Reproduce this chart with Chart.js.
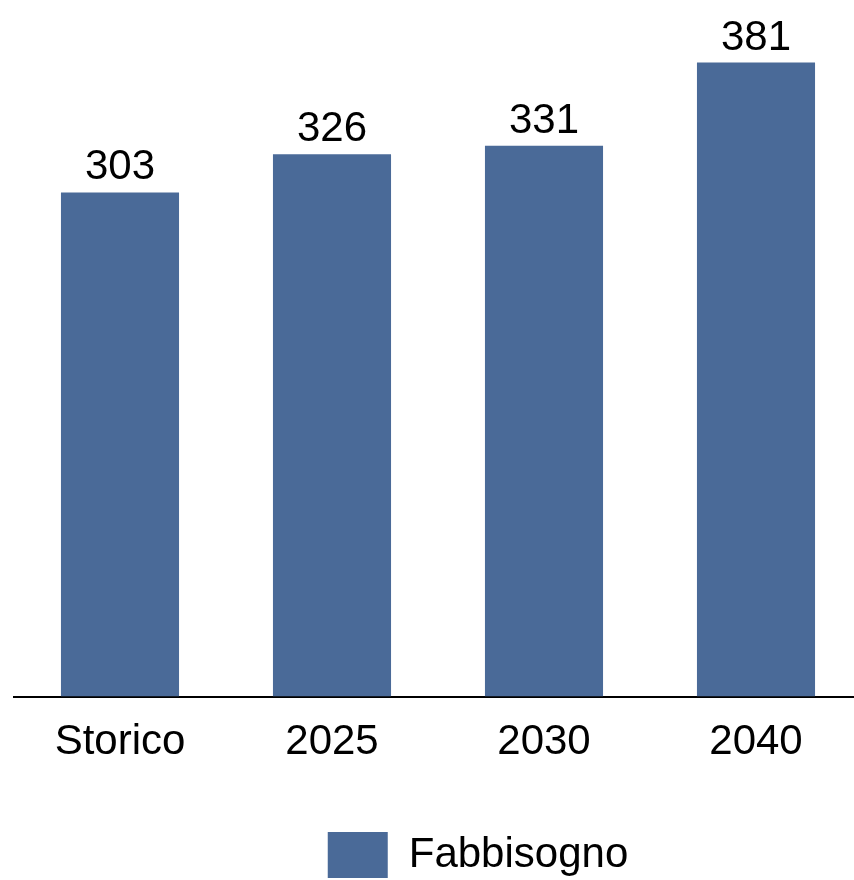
<!DOCTYPE html>
<html>
<head>
<meta charset="utf-8">
<script src="https://cdn.jsdelivr.net/npm/chart.js@4.4.1/dist/chart.umd.min.js"></script>
<style>
  html, body { margin: 0; padding: 0; background: #fff; overflow: hidden; }
  canvas { display: block; }
</style>
</head>
<body>
<canvas id="grafico" width="862" height="880"></canvas>
<script>
let categorie = ["Storico", "2025", "2030", "2040"];
let fabbisogno = [303, 326, 331, 381];
let nome_serie = "Fabbisogno";

let colore_barre = "rgb(74, 106, 152)";
let font_base = "'Liberation Sans', Arial, sans-serif";

// numeri sopra le barre
let etichette_valori = {
  id: "etichette_valori",
  afterDatasetsDraw(chart) {
    let ctx = chart.ctx;
    ctx.save();
    ctx.font = "42px " + font_base;
    ctx.fillStyle = "#000";
    ctx.textAlign = "center";
    ctx.textBaseline = "alphabetic";
    chart.getDatasetMeta(0).data.forEach((bar, i) => {
      ctx.fillText(fabbisogno[i], bar.x, bar.y - 13);
    });
    ctx.restore();
  }
};

// la legenda sta un po' a destra del centro
let sposta_legenda = {
  id: "sposta_legenda",
  afterLayout(chart) {
    chart.legend.left += 40;
    chart.legend.right += 40;
  }
};

let graph = document.getElementById("grafico");
let myChart = new Chart(graph, {
  type: "bar",
  data: {
    labels: categorie,
    datasets: [
      {
        label: nome_serie,
        data: fabbisogno,
        backgroundColor: colore_barre,
        borderWidth: 0,
        categoryPercentage: 1,
        barPercentage: 0.557,
      },
    ],
  },
  options: {
    responsive: false,
    animation: false,
    layout: {
      padding: { top: 31, left: 14, right: 0, bottom: -8 },
    },
    scales: {
      x: {
        grid: { display: false, drawTicks: false },
        border: { display: true, color: "#000", width: 2 },
        ticks: {
          color: "#000",
          padding: 21,
          font: { size: 42, family: font_base },
        },
        // spazio vuoto tra le etichette e la legenda
        afterFit(scale) {
          scale.height += 33;
        },
      },
      y: {
        display: false,
        min: 0,
        max: 400,
      },
    },
    plugins: {
      tooltip: { enabled: false },
      legend: {
        position: "bottom",
        labels: {
          color: "#000",
          boxWidth: 60,
          boxHeight: 46,
          padding: 10,
          font: { size: 42, family: font_base },
        },
      },
    },
  },
  plugins: [etichette_valori, sposta_legenda],
});
</script>
</body>
</html>
